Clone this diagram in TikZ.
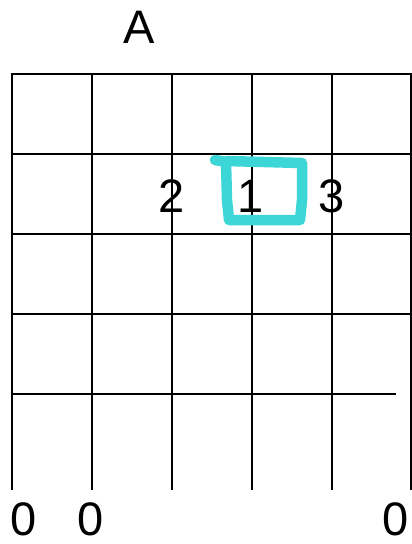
\documentclass[tikz,border=0pt]{standalone}
\usepackage{fontspec}
\setmainfont{Liberation Sans}
\definecolor{cyanmark}{HTML}{3DD6D6}
\begin{document}
\begin{tikzpicture}[x=1pt,y=-1pt,
  gridline/.style={line width=2.2pt,black},
  lbl/.style={anchor=base,inner sep=0pt,font=\fontsize{47}{47}\selectfont},
  hand/.style={cyanmark,line width=10.5pt,line join=round,line cap=round}]
\useasboundingbox (0,0) rectangle (412,544);
% horizontal lines
\draw[gridline] (12,74) -- (411,74);
\draw[gridline] (12,154) -- (411,154);
\draw[gridline] (12,234) -- (411,234);
\draw[gridline] (12,314) -- (411,314);
\draw[gridline] (12,394) -- (396,394);
% vertical lines
\foreach \x in {12,92,172,252,332} {\draw[gridline] (\x,73) -- (\x,490);}
\draw[gridline] (411,73) -- (411,490);
% labels
\node[lbl] (tA) at (139,43) {A};
\node[lbl] (t2) at (172,212) {2};
\node[lbl] (t1) at (251,212) {1};
\node[lbl] (t3) at (332,212) {3};
\node[lbl] (z1) at (24,535) {0};
\node[lbl] (z2) at (91,535) {0};
\node[lbl] (z3) at (396,535) {0};
% cyan hand drawn box
\draw[hand]
  (215,160) -- (226,162) -- (227,200) -- (229,220) -- (300,220) -- (302,200) -- (302,163) -- (226,161);
\end{tikzpicture}
\end{document}
